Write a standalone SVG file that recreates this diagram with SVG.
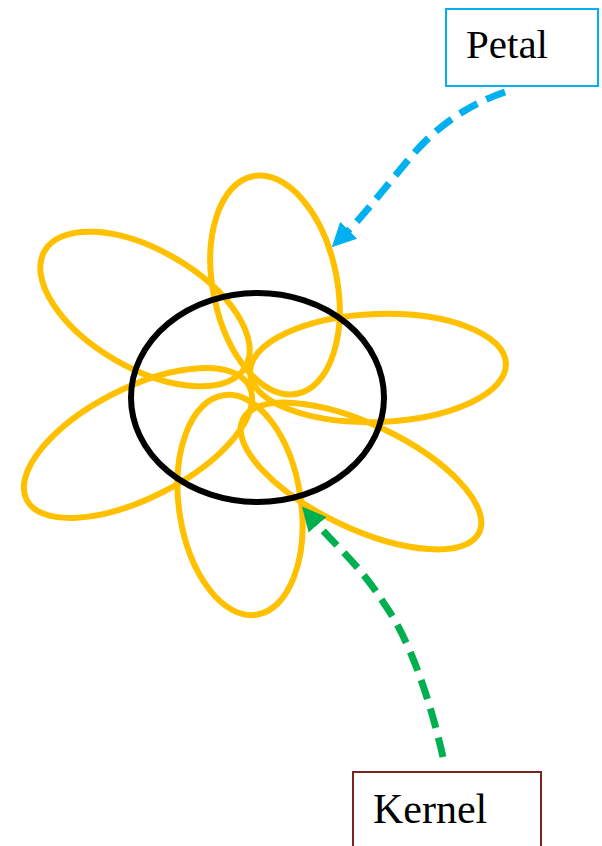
<svg xmlns="http://www.w3.org/2000/svg" width="602" height="846" viewBox="0 0 602 846">
  <style>
    .petal { fill: none; stroke: #FFC000; stroke-width: 6; }
    .kernel { fill: none; stroke: #000000; stroke-width: 6; }
    .label { font-family: "Liberation Serif", "Times New Roman", serif; font-size: 41px; fill: #000000; }
    .conn { fill: none; stroke-width: 7; stroke-dasharray: 20 10; }
  </style>
  <defs>
    <marker id="arrowBlue" viewBox="0 0 24 24" refX="1" refY="12" markerWidth="24" markerHeight="24" markerUnits="userSpaceOnUse" orient="auto">
      <path d="M0,0 L24,12 L0,24 z" fill="#00B0F0"/>
    </marker>
    <marker id="arrowGreen" viewBox="0 0 24 24" refX="1" refY="12" markerWidth="24" markerHeight="24" markerUnits="userSpaceOnUse" orient="auto">
      <path d="M0,0 L24,12 L0,24 z" fill="#00B050"/>
    </marker>
  </defs>
  <rect width="602" height="846" fill="#FFFFFF"/>

  <g id="flower">
    <ellipse id="petal-top" class="petal" cx="275" cy="285" rx="62" ry="111" transform="rotate(-11.5 275 285)"/>
    <ellipse id="petal-upper-left" class="petal" cx="145" cy="309" rx="116" ry="59" transform="rotate(30 145 309)"/>
    <ellipse id="petal-right" class="petal" cx="378" cy="368" rx="128" ry="54" transform="rotate(-2 378 368)"/>
    <ellipse id="petal-lower-left" class="petal" cx="138" cy="443" rx="125" ry="55" transform="rotate(-27 138 443)"/>
    <ellipse id="petal-bottom" class="petal" cx="240" cy="505" rx="61" ry="111" transform="rotate(-8.5 240 505)"/>
    <ellipse id="petal-lower-right" class="petal" cx="361" cy="476" rx="131" ry="52" transform="rotate(25.5 361 476)"/>
    <ellipse id="kernel-circle" class="kernel" cx="257.5" cy="397.5" rx="126.5" ry="104.5"/>
  </g>

  <g id="node-petal">
    <rect x="446" y="9" width="152" height="77" fill="#FFFFFF" stroke="#00B0F0" stroke-width="2"/>
    <text class="label" x="466" y="58">Petal</text>
  </g>

  <g id="node-kernel">
    <rect x="353" y="772" width="188" height="80" fill="#FFFFFF" stroke="#7A2420" stroke-width="2"/>
    <text class="label" x="373" y="823" style="font-size:42px">Kernel</text>
  </g>

  <g id="connectors">
    <path class="conn" stroke="#00B0F0" marker-end="url(#arrowBlue)" d="M505,92 C470,104 440,124 415,152 C395,175 365,214 348,231"/>
    <path class="conn" stroke="#00B050" marker-end="url(#arrowGreen)" d="M443,757 C430,700 410,640 385,605 C360,565 335,545 317,524"/>
  </g>
</svg>
